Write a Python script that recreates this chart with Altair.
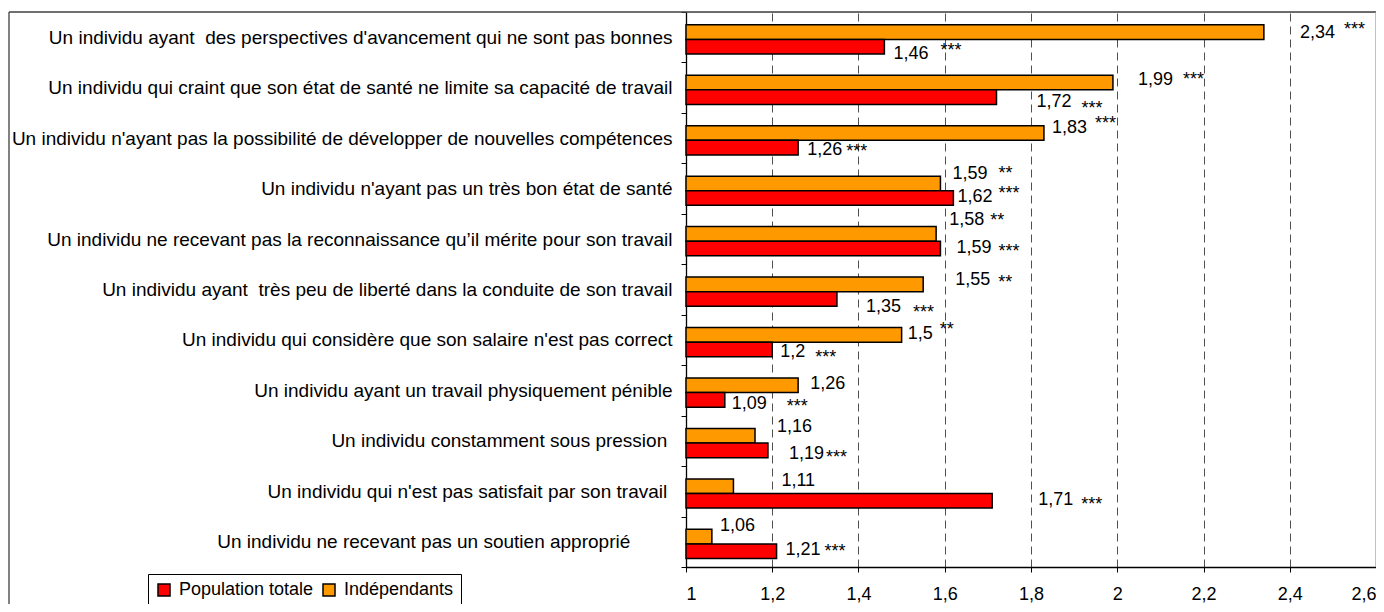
import altair as alt
import pandas as pd

# ---------------- data ----------------
categories = [
    "Un individu ayant\u00a0 des perspectives d'avancement qui ne sont pas bonnes",
    "Un individu qui craint que son état de santé ne limite sa capacité de travail",
    "Un individu n'ayant pas la possibilité de développer de nouvelles compétences",
    "Un individu n'ayant pas un très bon état de santé",
    "Un individu ne recevant pas la reconnaissance qu\u2019il mérite pour son travail",
    "Un individu ayant\u00a0 très peu de liberté dans la conduite de son travail",
    "Un individu qui considère que son salaire n'est pas correct",
    "Un individu ayant un travail physiquement pénible",
    "Un individu constamment sous pression\u00a0\u200b",
    "Un individu qui n'est pas satisfait par son travail\u00a0\u200b",
    "Un individu ne recevant pas un soutien approprié" + "\u00a0" * 8 + "\u200b",
]
series_names = ["Population totale", "Indépendants"]
independants = [2.34, 1.99, 1.83, 1.59, 1.58, 1.55, 1.5, 1.26, 1.16, 1.11, 1.06]
population_totale = [1.46, 1.72, 1.26, 1.62, 1.59, 1.35, 1.2, 1.09, 1.19, 1.71, 1.21]
independants_sig = ["***", "***", "***", "**", "**", "**", "**", "", "", "", ""]
population_sig = ["***"] * 11
x_ticks = [1, 1.2, 1.4, 1.6, 1.8, 2, 2.2, 2.4, 2.6]

# label placement nudges (pixels, relative to bar end / bar centre), as in the original
indep_num_nudge = [(36, 1), (25, -3), (8, -5), (12, -9), (13, -14), (32, -4), (6, -1), (12, -1), (22, -9), (48, -5), (8, -11)]
indep_sig_nudge = [(80, -2), (70, -3), (51, -9), (58, -9), (54, -13), (75, -1), (38, -5), None, None, None, None]
total_num_nudge = [(9, 7), (40, 5), (9, 2), (4, -1), (16, -1), (29, 8), (8, 3), (7, 4), (21, 4), (46, -1), (9, -1)]
total_sig_nudge = [(56, 4), (85, 12), (48, 4), (45, -4), (58, 3), (76, 14), (43, 9), (62, 7), (58, 8), (89, 4), (48, 1)]

FONT = "Liberation Sans, Arial, sans-serif"
RED = "#FF0000"
ORANGE = "#FF9900"

rows = []
for i, cat in enumerate(categories):
    rows.append({"idx": i, "category": cat, "series": "Indépendants", "value": independants[i],
                 "num": str(independants[i]).replace(".", ","), "sig": independants_sig[i]})
    rows.append({"idx": i, "category": cat, "series": "Population totale", "value": population_totale[i],
                 "num": str(population_totale[i]).replace(".", ","), "sig": population_sig[i]})
df = pd.DataFrame(rows)

x_enc = alt.X(
    "value:Q",
    scale=alt.Scale(domain=[1, 2.6], zero=False, nice=False),
    axis=alt.Axis(
        values=x_ticks,
        labelExpr="replace(format(datum.value, '.2~r'), '.', ',')",
        title=None,
        grid=True,
        gridDash=[8, 5],
        gridColor="#505050",
        gridWidth=1,
        domainColor="black",
        domainWidth=1.3,
        tickColor="black",
        tickSize=5,
        labelFontSize=18,
        labelFont=FONT,
        labelColor="black",
        labelPadding=13,
    ),
)
y_enc = alt.Y(
    "category:N",
    sort=categories,
    scale=alt.Scale(paddingInner=0, paddingOuter=0),
    axis=alt.Axis(
        title=None,
        tickBand="extent",
        labelLimit=900,
        labelFontSize=19,
        labelFont=FONT,
        labelColor="black",
        labelPadding=9,
        tickSize=5,
        tickColor="black",
        domainColor="black",
        domainWidth=1.3,
        grid=False,
    ),
)
yoff_enc = alt.YOffset(
    "series:N",
    sort=["Indépendants", "Population totale"],
    scale=alt.Scale(domain=["Indépendants", "Population totale"], range=[12.8, 42], paddingInner=0, paddingOuter=0),
)

base = alt.Chart(df).encode(x=x_enc, y=y_enc, yOffset=yoff_enc)

bars = base.mark_bar(stroke="black", strokeWidth=1.5).encode(
    x2=alt.datum(1),
    fill=alt.Fill(
        "series:N",
        scale=alt.Scale(domain=series_names, range=[RED, ORANGE]),
        legend=alt.Legend(
            title=None,
            orient="none",
            legendX=-538,
            legendY=562,
            direction="horizontal",
            strokeColor="black",
            fillColor="white",
            padding=7,
            symbolType="square",
            symbolSize=144,
            symbolStrokeColor="black",
            symbolStrokeWidth=1.5,
            labelFontSize=18,
            labelFont=FONT,
            labelColor="black",
            labelOffset=6,
            columnPadding=6,
        ),
    ),
)

layers = [bars]
for i in range(len(categories)):
    for series, num_n, sig_n in (
        ("Indépendants", indep_num_nudge[i], indep_sig_nudge[i]),
        ("Population totale", total_num_nudge[i], total_sig_nudge[i]),
    ):
        flt = (alt.datum.idx == i) & (alt.datum.series == series)
        layers.append(
            base.transform_filter(flt)
            .mark_text(align="left", baseline="middle", dx=num_n[0], dy=num_n[1],
                       fontSize=18, font=FONT, color="black")
            .encode(text="num:N")
        )
        if sig_n is not None:
            layers.append(
                base.transform_filter(flt)
                .mark_text(align="left", baseline="middle", dx=sig_n[0], dy=sig_n[1],
                           fontSize=18, font=FONT, color="black")
                .encode(text="sig:N")
            )

frame_df = pd.DataFrame({"k": [0]})
frame_top = alt.Chart(frame_df).mark_rule(color="#404040", strokeWidth=1.3).encode(
    x=alt.value(-677), x2=alt.value(690), y=alt.value(0)
)
frame_left = alt.Chart(frame_df).mark_rule(color="#404040", strokeWidth=1.3).encode(
    x=alt.value(-677), y=alt.value(0), y2=alt.value(600)
)
plot_right = alt.Chart(frame_df).mark_rule(color="#a0a0a0", strokeWidth=1.3).encode(
    x=alt.value(690), y=alt.value(0), y2=alt.value(555)
)

chart = (
    alt.layer(*layers, frame_top, frame_left, plot_right)
    .properties(
        width=690,
        height=555,
        autosize=alt.AutoSizeParams(type="none"),
        padding={"left": 678, "top": 4, "right": 0, "bottom": 37},
    )
    .configure_view(stroke=None)
    .configure(background="white")
)

chart.save("out.html", embed_options={"renderer": "svg", "actions": False})
